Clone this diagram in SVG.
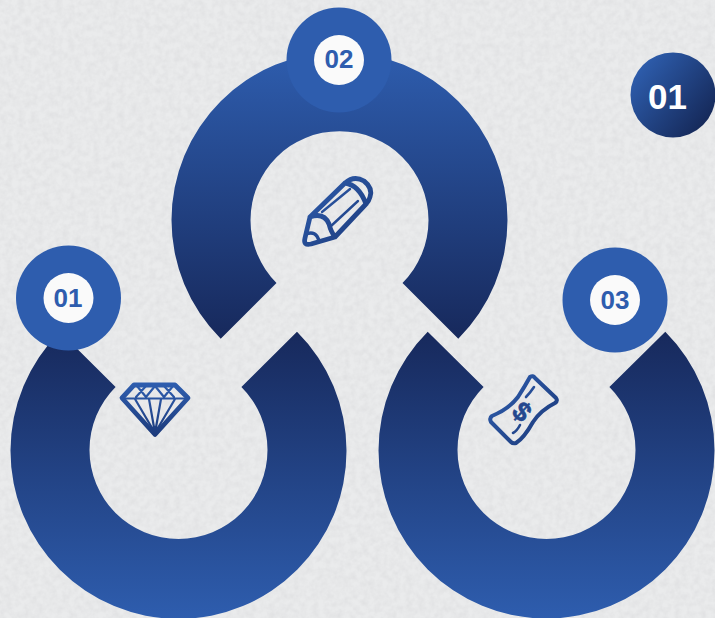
<svg xmlns="http://www.w3.org/2000/svg" width="715" height="618" viewBox="0 0 715 618">
<defs>
<linearGradient id="gTop" gradientUnits="userSpaceOnUse" x1="0" y1="52" x2="0" y2="338"><stop offset="0" stop-color="#2e5dae"/><stop offset="1" stop-color="#17295c"/></linearGradient>
<linearGradient id="gBot" gradientUnits="userSpaceOnUse" x1="0" y1="332" x2="0" y2="618"><stop offset="0" stop-color="#17295c"/><stop offset="1" stop-color="#2e5dae"/></linearGradient>
<linearGradient id="gDiag" x1="0.1" y1="0.2" x2="0.9" y2="0.85"><stop offset="0" stop-color="#2d5cab"/><stop offset="1" stop-color="#152858"/></linearGradient>
<linearGradient id="gDia" gradientUnits="userSpaceOnUse" x1="0" y1="384" x2="0" y2="437"><stop offset="0" stop-color="#2e5dae"/><stop offset="1" stop-color="#1c3a7a"/></linearGradient>
<linearGradient id="gPen" gradientUnits="userSpaceOnUse" x1="305" y1="180" x2="370" y2="245"><stop offset="0" stop-color="#2e5dae"/><stop offset="1" stop-color="#1c3a7a"/></linearGradient>
<linearGradient id="gCash" gradientUnits="userSpaceOnUse" x1="490" y1="380" x2="555" y2="440"><stop offset="0" stop-color="#2e5dae"/><stop offset="1" stop-color="#1c3a7a"/></linearGradient>
<filter id="tex" x="0" y="0" width="100%" height="100%"><feTurbulence type="fractalNoise" baseFrequency="0.16" numOctaves="3" seed="4"/><feColorMatrix type="matrix" values="0 0 0 0 0.55 0 0 0 0 0.55 0 0 0 0 0.57 0.42 0 0 0 -0.13"/></filter>
<style>
.badge{fill:#2e5dae}
.hole{fill:#fafafa}
.num{font-family:"Liberation Sans",Arial,sans-serif;font-weight:700;text-anchor:middle;fill:#2e5dae;font-size:26px}
.icon{fill:none;stroke-linecap:round;stroke-linejoin:round}
</style>
</defs>
<rect id="background" width="715" height="618" fill="#eaebec"/>
<rect width="715" height="618" filter="url(#tex)"/>
<g id="node-ring-2">
<path fill="url(#gTop)" d="M220.700 338.800A168 168 0 1 1 458.300 338.800L402.500 283A89 89 0 1 0 276.500 283Z"/>
<path class="icon" stroke="url(#gPen)" stroke-width="4.800" d="M310 217L345 183Q354 175 364 181Q373 188 370 197Q369 201 366 204L335 237L311 244Q303 246 305 238ZM310 217Q324 212 329 224Q331 232 335 237M345 183Q359 185 366 204"/>
<path class="icon" stroke="url(#gPen)" stroke-width="2.400" d="M322 212L350 189M331 226L358 201"/>
<path class="icon" stroke="url(#gPen)" stroke-width="3.400" d="M306 234Q316 230 319 241"/>
</g>
<g id="node-ring-1">
<path fill="url(#gBot)" d="M297 331.800A168 168 0 1 1 60 331.800L115.600 387A89 89 0 1 0 241.400 387Z"/>
<path class="icon" stroke="url(#gDia)" stroke-width="4.800" d="M134 385H175L188 398L155 434.500L122 398Z"/>
<path class="icon" stroke="url(#gDia)" stroke-width="2.200" d="M122 398.500H188M137 386L146 397L155 386L164 397L173 386M146 386L136 397M155 386L146 397M164 386L174 397M155 386L164 397M135 399L155 433M149 399L155 433M161 399L155 433M175 399L155 433"/>
</g>
<g id="node-ring-3">
<path fill="url(#gBot)" d="M665.300 331.800A168 168 0 1 1 427.700 331.800L483.600 387A89 89 0 1 0 609.400 387Z"/>
<path class="icon" stroke="url(#gCash)" stroke-width="4" d="M530 377Q533 375 535 378L556 398Q558 401 555 403Q541 410 533 422Q524 438 516 443Q513 444 511 442L491 422Q489 418 492 416Q509 409 518 397Q525 386 530 377Z"/>
<path class="icon" stroke="url(#gCash)" stroke-width="2.600" d="M534 387Q530 393 526 397M520 425Q517 431 513 433"/>
<text x="522.500" y="421" transform="rotate(42 522.500 411)" stroke="#24488f" stroke-width="0.600" style="font-family:'Liberation Sans',Arial,sans-serif;font-weight:700;font-size:27px;text-anchor:middle;fill:#24488f">$</text>
</g>
<g id="node-badge-1"><circle class="badge" cx="68.500" cy="298" r="52.500"/><circle class="hole" cx="68.500" cy="298" r="25"/><text class="num" x="68" y="306.500">01</text></g>
<g id="node-badge-2"><circle class="badge" cx="339" cy="60" r="52.500"/><circle class="hole" cx="339" cy="60" r="25"/><text class="num" x="339" y="68">02</text></g>
<g id="node-badge-3"><circle class="badge" cx="615" cy="300" r="52.500"/><circle class="hole" cx="615" cy="300" r="25"/><text class="num" x="615" y="309">03</text></g>
<g id="node-title"><circle cx="673" cy="95" r="42.500" fill="url(#gDiag)"/><text x="667.500" y="109" style="font-family:'Liberation Sans',Arial,sans-serif;font-weight:700;font-size:35px;text-anchor:middle;fill:#fff">01</text></g>
<g id="connectors"/>
</svg>
